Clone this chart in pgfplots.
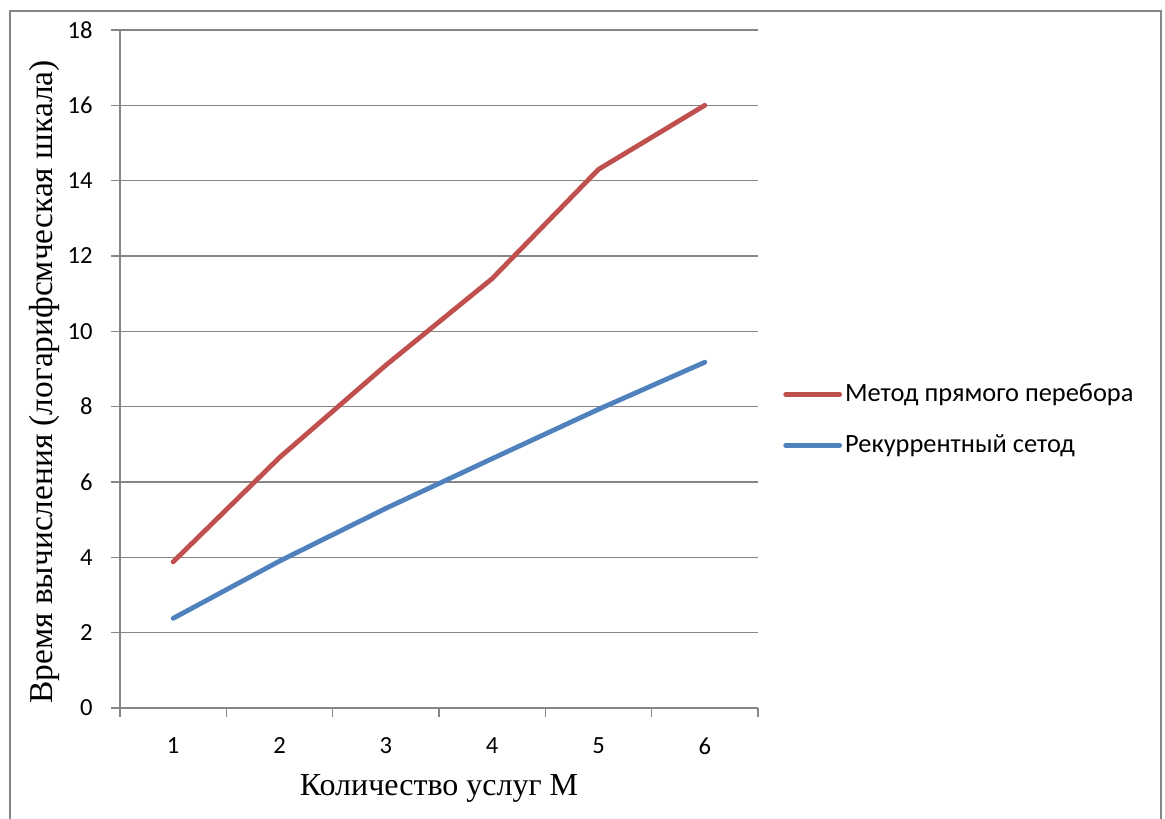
\documentclass[border=0pt]{standalone}
\usepackage{pgfplots}
\pgfplotsset{compat=1.18}
\usepackage{fontspec}
\setmainfont{Carlito}
\newfontfamily\timesfont{Liberation Serif}
\definecolor{redline}{HTML}{C0504D}
\definecolor{blueline}{HTML}{4F81BD}
\definecolor{gridgray}{HTML}{868686}
\begin{document}
\begin{tikzpicture}
\begin{axis}[
  scale only axis, width=319pt, height=339pt,
  xmin=0.5, xmax=6.5, ymin=0, ymax=18,
  axis lines*=left,
  axis line style={gridgray, line width=0.75pt},
  xtick={1,...,6}, minor xtick={0.5,1.5,...,6.5},
  ytick={0,2,...,18},
  tick align=outside, major tick length=4.5pt, minor tick length=4.5pt,
  major x tick style={draw=none},
  tick style={gridgray, line width=0.75pt},
  ymajorgrids, grid style={gridgray, line width=0.65pt},
  /pgf/number format/assume math mode=true,
  tick label style={font=\fontsize{12.3}{14}\selectfont},
  yticklabel style={anchor=east, inner sep=0pt, xshift=-9pt},
  xticklabel style={anchor=north, inner sep=0pt, yshift=-10pt},
  xlabel={\timesfont Количество услуг М},
  ylabel={\timesfont Время вычисления (логарифсмческая шкала)},
  xlabel style={font=\fontsize{16}{18}\selectfont,
    at={(axis description cs:0.5,0)}, anchor=base, yshift=-43.5pt},
  ylabel style={font=\fontsize{16.7}{19}\selectfont,
    at={(axis description cs:0,0.481)}, anchor=center, yshift=38pt},
  legend style={at={(1.039,0.425)}, anchor=west, draw=none, fill=none,
    font=\fontsize{13.2}{15}\selectfont, row sep=12pt, inner sep=0pt,
    nodes={inner sep=1.5pt}},
  legend cell align=left,
  legend image code/.code={\draw[#1, line cap=round] (0pt,0pt) -- (27pt,0pt);},
]
\addplot[redline, line width=2.4pt, line join=round, line cap=round]
  coordinates {(1,3.88) (2,6.65) (3,9.1) (4,11.4) (5,14.3) (6,16.0)};
\addlegendentry{Метод прямого перебора}
\addplot[blueline, line width=2.4pt, line join=round, line cap=round]
  coordinates {(1,2.38) (2,3.9) (3,5.3) (4,6.62) (5,7.93) (6,9.18)};
\addlegendentry{Рекуррентный сетод}
\end{axis}
\pgfresetboundingbox
\useasboundingbox (-60pt,-55pt) rectangle (522.5pt,354pt);
% chart area frame (open at the bottom edge)
\draw[gridgray, line width=0.8pt] (-55pt,-60pt) -- (-55pt,348.5pt) -- (520.5pt,348.5pt) -- (520.5pt,-60pt);
\end{tikzpicture}
\end{document}
